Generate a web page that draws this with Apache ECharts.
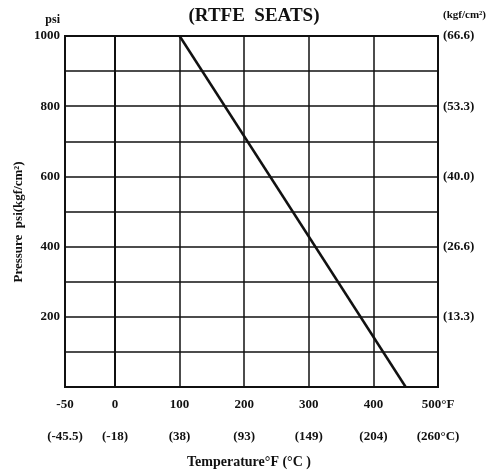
<!DOCTYPE html>
<html>
<head>
<meta charset="utf-8">
<script src="https://cdn.jsdelivr.net/npm/echarts@6/dist/echarts.min.js"></script>
<style>html,body{margin:0;padding:0;background:#fff}#c{width:495px;height:476px}</style>
</head>
<body>
<div id="c"></div>
<script>
const fTicks = [-50, 0, 100, 200, 300, 400, 500];
const fLabels = ['-50', '0', '100', '200', '300', '400', '500°F'];
const cLabels = ['(-45.5)', '(-18)', '(38)', '(93)', '(149)', '(204)', '(260°C)'];
const psiTicks = [200, 400, 600, 800, 1000];
const kgfLabels = ['(13.3)', '(26.6)', '(40.0)', '(53.3)', '(66.6)'];
const tempF = [100, 450];
const pressurePsi = [1000, 0];

const FONT = 'Liberation Serif';
const INK = '#111';
const chart = echarts.init(document.getElementById('c'));

function xLabel(v) {
  const i = fTicks.indexOf(v);
  return i < 0 ? '' : fLabels[i] + '\n' + cLabels[i];
}
const labelStyle = { color: INK, fontFamily: FONT, fontWeight: 'bold', fontSize: 13 };
const splitStyle = { show: true, lineStyle: { color: INK, width: 1.5 } };

chart.setOption({
  animation: false,
  backgroundColor: '#fff',
  grid: [
    { left: 65, right: 380, top: 36, bottom: 89, show: true, borderColor: INK, borderWidth: 2, backgroundColor: 'transparent' },
    { left: 115, right: 57, top: 36, bottom: 89, show: true, borderColor: INK, borderWidth: 2, backgroundColor: 'transparent' }
  ],
  xAxis: [
    { gridIndex: 0, type: 'value', min: -50, max: 0, interval: 50,
      axisLine: { show: false }, axisTick: { show: false }, splitLine: { show: false },
      axisLabel: Object.assign({}, labelStyle, { margin: 2, lineHeight: 32, formatter: v => v === -50 ? xLabel(v) : '' }) },
    { gridIndex: 1, type: 'value', min: 0, max: 500, interval: 100,
      axisLine: { show: false }, axisTick: { show: false }, splitLine: splitStyle,
      axisLabel: Object.assign({}, labelStyle, { margin: 2, lineHeight: 32, showMinLabel: true, showMaxLabel: true, formatter: xLabel }) }
  ],
  yAxis: [
    { gridIndex: 0, type: 'value', min: 0, max: 1000, interval: 100,
      axisLine: { show: false }, axisTick: { show: false }, splitLine: splitStyle,
      axisLabel: Object.assign({}, labelStyle, { margin: 5, formatter: v => psiTicks.indexOf(v) >= 0 ? String(v) : '' }) },
    { gridIndex: 1, type: 'value', min: 0, max: 1000, interval: 100, position: 'right',
      axisLine: { show: false }, axisTick: { show: false }, splitLine: splitStyle,
      axisLabel: Object.assign({}, labelStyle, { margin: 5, formatter: v => { const i = psiTicks.indexOf(v); return i < 0 ? '' : kgfLabels[i]; } }) }
  ],
  series: [{
    type: 'line', xAxisIndex: 1, yAxisIndex: 1, symbol: 'none',
    lineStyle: { color: INK, width: 2.5 },
    data: tempF.map((t, i) => [t, pressurePsi[i]])
  }],
  graphic: [
    { type: 'text', x: 254, y: 16, style: { text: '(RTFE  SEATS)', fill: INK, font: 'bold 19px "Liberation Serif"', align: 'center', verticalAlign: 'middle' } },
    { type: 'text', x: 60, y: 20, style: { text: 'psi', fill: INK, font: 'bold 12px "Liberation Serif"', align: 'right', verticalAlign: 'middle' } },
    { type: 'text', x: 443, y: 15, style: { text: '(kgf/cm²)', fill: INK, font: 'bold 11px "Liberation Serif"', align: 'left', verticalAlign: 'middle' } },
    { type: 'text', x: 249, y: 462, style: { text: 'Temperature°F (°C )', fill: INK, font: 'bold 14px "Liberation Serif"', align: 'center', verticalAlign: 'middle' } },
    { type: 'text', x: 19, y: 222, rotation: Math.PI / 2, style: { text: 'Pressure  psi(kgf/cm²)', fill: INK, font: 'bold 13px "Liberation Serif"', align: 'center', verticalAlign: 'middle' } }
  ]
});
</script>
</body>
</html>
